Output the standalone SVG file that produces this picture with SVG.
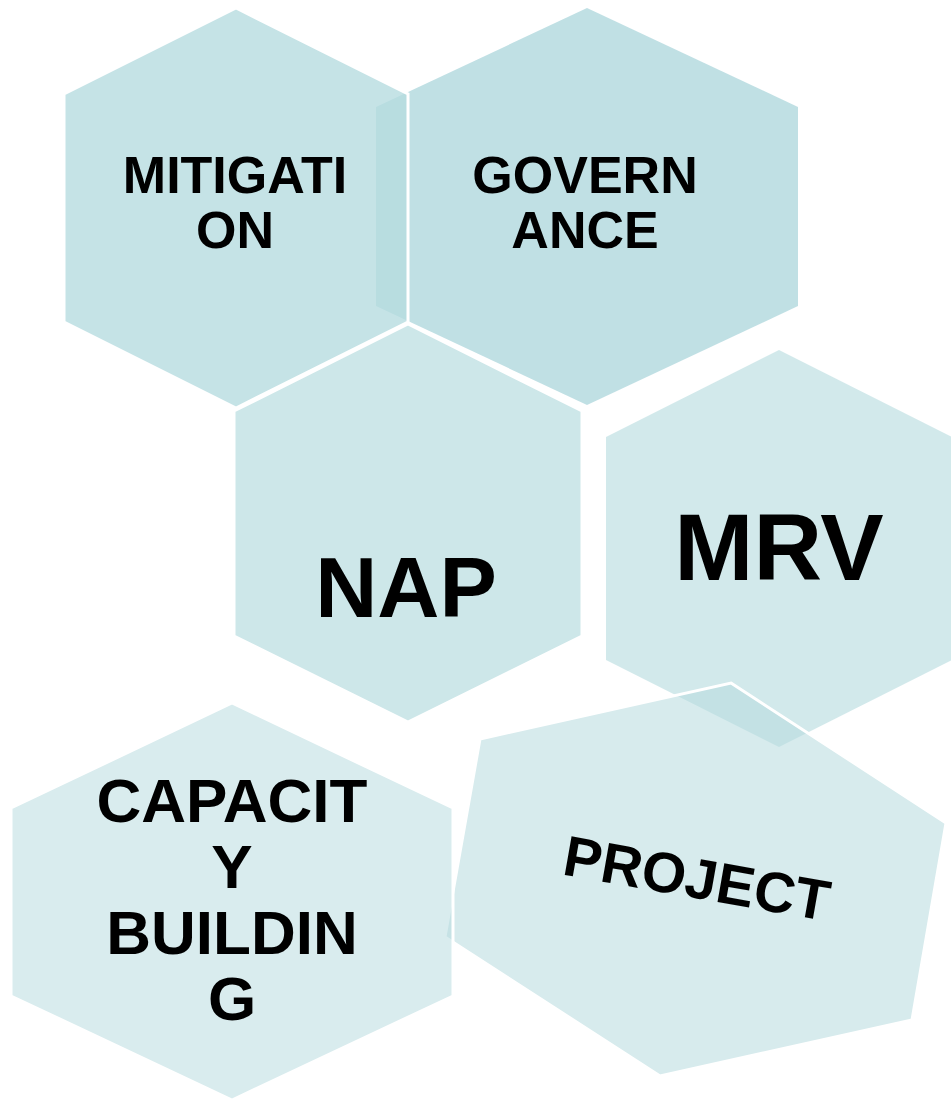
<svg xmlns="http://www.w3.org/2000/svg" width="951" height="1102" viewBox="0 0 951 1102">
<style>
.hex{fill:#b6dbdf;stroke:#ffffff;stroke-width:3;stroke-linejoin:miter}
.ns{stroke:none}
.t{font-family:"Liberation Sans",Arial,sans-serif;font-weight:bold;fill:#000;text-anchor:middle}
</style>
<rect width="951" height="1102" fill="#ffffff"/>
<g id="governance">
<polygon class="hex ns" fill-opacity="0.86" points="587,8 798,107 798,306 587,405 376,306 376,107"/>
<text class="t" font-size="52" x="585" y="193">GOVERN</text>
<text class="t" font-size="52" x="585" y="248">ANCE</text>
</g>
<g id="mitigation">
<polygon class="hex" fill-opacity="0.79" points="236,8 408,94 408,322 236,408 64,322 64,94"/>
<text class="t" font-size="52" x="235" y="193">MITIGATI</text>
<text class="t" font-size="52" x="235" y="248">ON</text>
</g>
<g id="nap">
<polygon class="hex" fill-opacity="0.68" points="408,324 582,411 582,636 408,722 234,636 234,411"/>
<text class="t" font-size="86" x="406" y="617">NAP</text>
</g>
<g id="mrv">
<polygon class="hex ns" fill-opacity="0.62" points="779,350 952,437 952,660 779,747 606,660 606,437"/>
<text class="t" font-size="95" x="779" y="580">MRV</text>
</g>
<g id="project">
<polygon class="hex" fill-opacity="0.55" points="731,683 946,823 912,1020 660,1076 445,937 480,739"/>
<text class="t" font-size="57" transform="translate(697,878) rotate(10)" x="0" y="20">PROJECT</text>
</g>
<g id="capacity-building">
<polygon class="hex" fill-opacity="0.52" points="232,703 453,808 453,996 232,1100 11,996 11,808"/>
<text class="t" font-size="62" x="232" y="822">CAPACIT</text>
<text class="t" font-size="62" x="232" y="888">Y</text>
<text class="t" font-size="62" x="232" y="954">BUILDIN</text>
<text class="t" font-size="62" x="232" y="1020">G</text>
</g>
</svg>
